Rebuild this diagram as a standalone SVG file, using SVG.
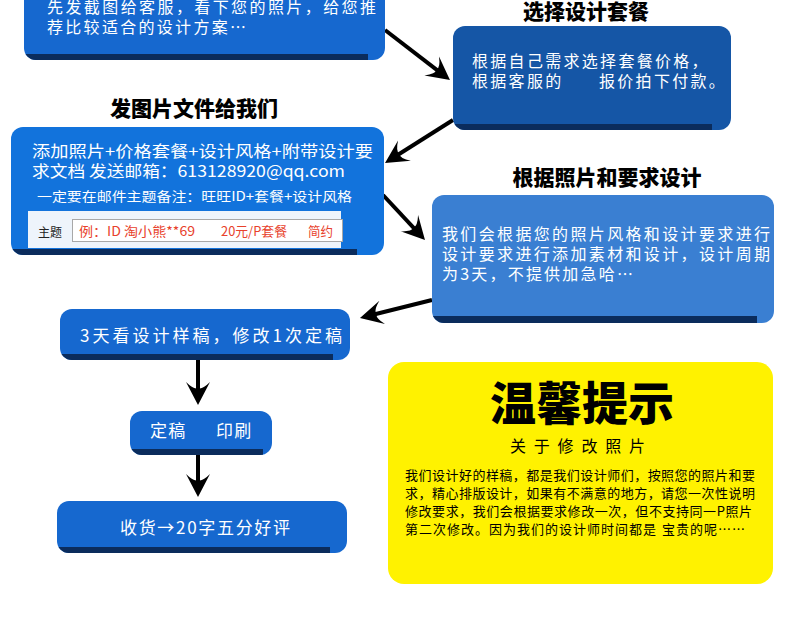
<svg xmlns="http://www.w3.org/2000/svg" width="790" height="620" viewBox="0 0 790 620">
<style>
.t{font-family:"Noto Sans CJK SC","Noto Sans",sans-serif}
.w{fill:#fff;font-size:16px}
.w17{fill:#fff;font-size:17px}
.ttl{fill:#000;font-size:21px;font-weight:900}
.strip{fill:#0b2c5c}
.conn line{stroke:#000;stroke-width:4;fill:none;marker-end:url(#ah)}
</style>
<defs>
<marker id="ah" markerUnits="userSpaceOnUse" markerWidth="26" markerHeight="26" viewBox="0 0 26 26" refX="17" refY="13" orient="auto">
<path d="M23,13 L0,1 Q8,9 6,13 Q8,17 0,25 Z" fill="#000"/>
</marker>
<clipPath id="c1"><rect x="24" y="-20" width="361" height="80" rx="12"/></clipPath>
<clipPath id="c2"><rect x="453" y="26" width="278" height="104" rx="12"/></clipPath>
<clipPath id="c3"><rect x="11" y="127" width="373" height="128" rx="12"/></clipPath>
<clipPath id="c4"><rect x="432" y="195" width="342" height="128" rx="12"/></clipPath>
<clipPath id="c5"><rect x="60" y="309" width="290" height="51" rx="12"/></clipPath>
<clipPath id="c6"><rect x="130" y="411" width="142" height="44" rx="12"/></clipPath>
<clipPath id="c7"><rect x="57" y="501" width="290" height="52" rx="12"/></clipPath>
</defs>
<rect width="790" height="620" fill="#fff"/>

<g id="connectors" class="conn">
<line x1="385" y1="30" x2="445.2" y2="76.3"/>
<line x1="453" y1="120" x2="390.1" y2="159.8"/>
<line x1="383" y1="195" x2="420.9" y2="235.6"/>
<line x1="432" y1="300" x2="365.8" y2="316.5"/>
<line x1="198" y1="360" x2="198" y2="399"/>
<line x1="198" y1="455" x2="198" y2="491"/>
</g>

<g id="node-screenshot">
<rect x="24" y="-20" width="361" height="80" rx="12" fill="#1668cf"/>
<rect class="strip" x="24" y="54" width="344" height="6" clip-path="url(#c1)"/>
<text class="t w" x="47" y="13" textLength="329" lengthAdjust="spacing">先发截图给客服，看下您的照片，给您推</text>
<text class="t w" x="47" y="33" letter-spacing="2.3">荐比较适合的设计方案…</text>
</g>

<g id="node-package">
<text class="t ttl" x="586" y="19" text-anchor="middle">选择设计套餐</text>
<rect x="453" y="26" width="278" height="104" rx="12" fill="#1556a6"/>
<rect class="strip" x="453" y="124" width="259" height="6" clip-path="url(#c2)"/>
<text class="t w" x="472" y="67" letter-spacing="2.3">根据自己需求选择套餐价格，</text>
<text class="t w" x="472" y="87" letter-spacing="2.3">根据客服的</text>
<text class="t w" x="599" y="87" letter-spacing="2.3">报价拍下付款。</text>
</g>

<g id="node-send">
<text class="t ttl" x="194" y="116" text-anchor="middle">发图片文件给我们</text>
<rect x="11" y="127" width="373" height="128" rx="12" fill="#1273dc"/>
<rect class="strip" x="11" y="249" width="346" height="6" clip-path="url(#c3)"/>
<text class="t w" x="32" y="157" textLength="341" lengthAdjust="spacingAndGlyphs">添加照片+价格套餐+设计风格+附带设计要</text>
<text class="t w" x="32" y="177" textLength="313" lengthAdjust="spacingAndGlyphs">求文档 发送邮箱：613128920@qq.com</text>
<text class="t" x="37" y="201" fill="#fff" font-size="13" textLength="315" lengthAdjust="spacingAndGlyphs">一定要在邮件主题备注：旺旺ID+套餐+设计风格</text>
<rect x="28" y="211" width="313" height="37" fill="#eef4fb"/>
<text class="t" x="38" y="237" fill="#222" font-size="12">主题</text>
<rect x="72.5" y="219.5" width="270" height="22" fill="#fff" stroke="#a8a8a8"/>
<text class="t" x="79" y="236" fill="#e8412b" font-size="13" textLength="116" lengthAdjust="spacingAndGlyphs">例：ID 淘小熊**69</text>
<text class="t" x="221" y="236" fill="#e8412b" font-size="13" textLength="66" lengthAdjust="spacingAndGlyphs">20元/P套餐</text>
<text class="t" x="308" y="236" fill="#e8412b" font-size="13" textLength="25" lengthAdjust="spacingAndGlyphs">简约</text>
</g>

<g id="node-design">
<text class="t ttl" x="607" y="185" text-anchor="middle">根据照片和要求设计</text>
<rect x="432" y="195" width="342" height="128" rx="12" fill="#3a7fd2"/>
<rect class="strip" x="432" y="316" width="325" height="7" clip-path="url(#c4)"/>
<text class="t w" x="442" y="240" textLength="328" lengthAdjust="spacing">我们会根据您的照片风格和设计要求进行</text>
<text class="t w" x="442" y="260" textLength="328" lengthAdjust="spacing">设计要求进行添加素材和设计，设计周期</text>
<text class="t w" x="442" y="280" letter-spacing="2.2">为3天，不提供加急哈…</text>
</g>

<g id="node-draft">
<rect x="60" y="309" width="290" height="51" rx="12" fill="#1668cf"/>
<rect class="strip" x="60" y="354" width="273" height="6" clip-path="url(#c5)"/>
<text class="t w17" x="80" y="342" textLength="262" lengthAdjust="spacing">3天看设计样稿，修改1次定稿</text>
</g>

<g id="node-print">
<rect x="130" y="411" width="142" height="44" rx="12" fill="#1668cf"/>
<rect class="strip" x="130" y="449" width="133" height="6" clip-path="url(#c6)"/>
<text class="t w17" x="150" y="437" letter-spacing="1.3">定稿</text>
<text class="t w17" x="216" y="437" letter-spacing="1.3">印刷</text>
</g>

<g id="node-receive">
<rect x="57" y="501" width="290" height="52" rx="12" fill="#1668cf"/>
<rect class="strip" x="57" y="547" width="273" height="6" clip-path="url(#c7)"/>
<text class="t w17" x="120" y="534" textLength="170" lengthAdjust="spacing">收货→20字五分好评</text>
</g>

<g id="node-tips">
<rect x="388" y="362" width="385" height="222" rx="16" fill="#fff200"/>
<text class="t" x="582" y="420" text-anchor="middle" font-size="46" font-weight="900" fill="#000">温馨提示</text>
<text class="t" x="510" y="452" font-size="16" font-weight="400" letter-spacing="7.8" fill="#000">关于修改照片</text>
<text class="t" x="405" y="480" font-size="13" fill="#000" textLength="350" lengthAdjust="spacing">我们设计好的样稿，都是我们设计师们，按照您的照片和要</text>
<text class="t" x="405" y="498" font-size="13" fill="#000" textLength="350" lengthAdjust="spacing">求，精心排版设计，如果有不满意的地方，请您一次性说明</text>
<text class="t" x="405" y="516" font-size="13" fill="#000" textLength="347" lengthAdjust="spacing">修改要求，我们会根据要求修改一次，但不支持同一P照片</text>
<text class="t" x="405" y="534" font-size="13" fill="#000" letter-spacing="1">第二次修改。因为我们的设计师时间都是</text>
<text class="t" x="662" y="534" font-size="13" fill="#000" letter-spacing="1">宝贵的呢……</text>
</g>
</svg>
